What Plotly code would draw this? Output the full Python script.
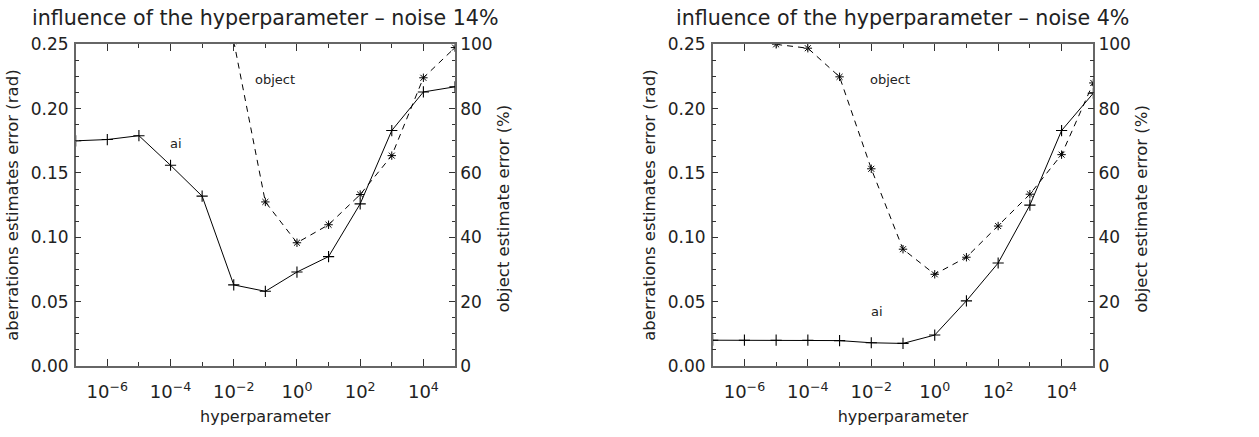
import plotly.graph_objects as go
from plotly.subplots import make_subplots

# ---- data ----
hyper = [1e-7, 1e-6, 1e-5, 1e-4, 1e-3, 1e-2, 1e-1, 1e0, 1e1, 1e2, 1e3, 1e4, 1e5]

ai_14 = [0.175, 0.176, 0.179, 0.156, 0.132, 0.063, 0.058, 0.073, 0.085, 0.126, 0.183, 0.213, 0.217]
obj_hyper_14 = [1e-2, 1e-1, 1e0, 1e1, 1e2, 1e3, 1e4, 1e5]
obj_14 = [101.0, 51.0, 38.3, 43.9, 53.3, 65.4, 89.6, 99.0]

ai_4 = [0.020, 0.020, 0.020, 0.020, 0.0197, 0.018, 0.0175, 0.024, 0.0506, 0.080, 0.125, 0.183, 0.212]
obj_hyper_4 = [1e-5, 1e-4, 1e-3, 1e-2, 1e-1, 1e0, 1e1, 1e2, 1e3, 1e4, 1e5]
obj_4 = [100.0, 98.8, 89.9, 61.3, 36.3, 28.5, 33.8, 43.5, 53.4, 65.7, 88.0]

titles = ["influence of the hyperparameter – noise 14%",
          "influence of the hyperparameter – noise 4%"]
xtick_vals = [1e-6, 1e-4, 1e-2, 1e0, 1e2, 1e4]
xtick_text = ["10<sup>−6</sup>", "10<sup>−4</sup>", "10<sup>−2</sup>",
              "10<sup>0</sup>", "10<sup>2</sup>", "10<sup>4</sup>"]
xminor_vals = [1e-5, 1e-3, 1e-1, 1e1, 1e3]
ytick_left = [0, 0.05, 0.10, 0.15, 0.20, 0.25]
ytick_right = [0, 20, 40, 60, 80, 100]

# label positions (log10 of hyperparameter, value)
ai_label = [(-3.82, 0.1728), (-1.83, 0.042)]
obj_label = [(-0.7, 89.2), (-1.4, 89.2)]

W, H = 1259, 437
FONT = "DejaVu Sans, sans-serif"
TXT = "#222222"
AX = "#666666"

fig = make_subplots(rows=1, cols=2, specs=[[{"secondary_y": True}, {"secondary_y": True}]])

panels = [(ai_14, obj_hyper_14, obj_14), (ai_4, obj_hyper_4, obj_4)]
for i, (ai, ohx, oy) in enumerate(panels):
    c = i + 1
    fig.add_trace(go.Scatter(x=hyper, y=ai, mode="lines+markers",
                             line=dict(color="black", width=1),
                             marker=dict(symbol="cross-thin-open", size=8,
                                         line=dict(color="black", width=1.1)),
                             showlegend=False), row=1, col=c, secondary_y=False)
    fig.add_trace(go.Scatter(x=ohx, y=oy, mode="lines+markers",
                             line=dict(color="black", width=1, dash="6px,5px"),
                             marker=dict(symbol="asterisk-open", size=7,
                                         line=dict(color="black", width=1)),
                             showlegend=False), row=1, col=c, secondary_y=True)

common_axis = dict(showline=True, linecolor=AX, linewidth=1.5, showgrid=False,
                   zeroline=False, ticks="inside", tickcolor="#333333")

for c in (1, 2):
    fig.update_xaxes(type="log", range=[-7, 5], tickvals=xtick_vals, ticktext=xtick_text,
                     ticklen=7, tickwidth=1.2, mirror="ticks", ticklabelstandoff=9,
                     tickfont=dict(family=FONT, size=18, color=TXT),
                     title=dict(text="hyperparameter", standoff=10,
                                font=dict(family=FONT, size=16, color=TXT)),
                     automargin=False,
                     minor=dict(tickvals=xminor_vals, ticklen=4, tickwidth=1, tickcolor="#333333",
                                ticks="inside"),
                     row=1, col=c, **common_axis)
    fig.update_yaxes(range=[0, 0.25], tickvals=ytick_left, tickformat=".2f",
                     ticklen=6, tickwidth=1.2, ticklabelstandoff=2,
                     tickfont=dict(family=FONT, size=17, color=TXT),
                     minor=dict(dtick=0.0125, ticklen=3.5, tickwidth=1, tickcolor="#333333",
                                ticks="inside"),
                     row=1, col=c, secondary_y=False, **common_axis)
    fig.update_yaxes(range=[0, 100], tickvals=ytick_right,
                     ticklen=6, tickwidth=1.2,
                     tickfont=dict(family=FONT, size=17, color=TXT),
                     minor=dict(dtick=5, ticklen=3.5, tickwidth=1, tickcolor="#333333",
                                ticks="inside"),
                     row=1, col=c, secondary_y=True, **common_axis)

# domains in pixels
L1, R1 = 75.7, 455.0
L2, R2 = 712.7, 1093.3
TOP, BOT = 36.0, 373.0
ydom = [(H - BOT) / H, (H - TOP) / H]
fig.update_layout(
    xaxis=dict(domain=[L1 / W, R1 / W]),
    xaxis2=dict(domain=[L2 / W, R2 / W]),
    yaxis=dict(domain=ydom), yaxis2=dict(domain=ydom),
    yaxis3=dict(domain=ydom), yaxis4=dict(domain=ydom),
)

ann = []
for i, (L, R) in enumerate([(L1, R1), (L2, R2)]):
    cx = (L + R) / 2
    ann.append(dict(text=titles[i], x=cx / W, y=1 - 8 / H, xref="paper", yref="paper",
                    xanchor="center", yanchor="middle", showarrow=False,
                    font=dict(family=FONT, size=20.6, color=TXT)))
    ann.append(dict(text="aberrations estimates error (rad)", x=(L - 64) / W,
                    y=1 - (TOP + BOT) / 2 / H, xref="paper", yref="paper",
                    xanchor="center", yanchor="middle", textangle=-90, showarrow=False,
                    font=dict(family=FONT, size=16.5, color=TXT)))
    ann.append(dict(text="object estimate error (%)", x=(R + 48) / W,
                    y=1 - 208 / H, xref="paper", yref="paper",
                    xanchor="center", yanchor="middle", textangle=-90, showarrow=False,
                    font=dict(family=FONT, size=16.5, color=TXT)))

xr = ["x", "x2"]
yl = ["y", "y3"]
yr = ["y2", "y4"]
for i in range(2):
    ann.append(dict(text="ai", x=ai_label[i][0], y=ai_label[i][1],
                    xref=xr[i], yref=yl[i], showarrow=False, xanchor="center", yanchor="middle",
                    font=dict(family=FONT, size=13, color=TXT)))
    ann.append(dict(text="object", x=obj_label[i][0], y=obj_label[i][1],
                    xref=xr[i], yref=yr[i], showarrow=False, xanchor="center", yanchor="middle",
                    font=dict(family=FONT, size=13, color=TXT)))

fig.update_layout(width=W, height=H, margin=dict(l=0, r=0, t=0, b=0),
                  paper_bgcolor="white", plot_bgcolor="white", annotations=ann)

fig.write_html("out.html")
